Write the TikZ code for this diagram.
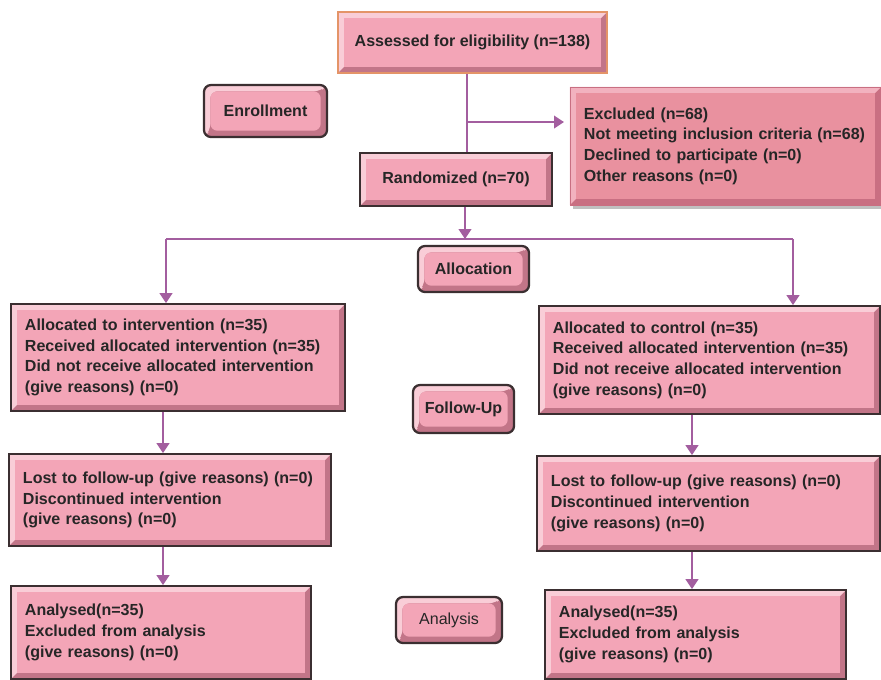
\documentclass[tikz,border=0pt]{standalone}
\usepackage{fontspec}
\setmainfont{Liberation Sans}
\usetikzlibrary{arrows.meta,shadows}

\definecolor{boxface}{HTML}{F3A5B7}
\definecolor{boxlight}{HTML}{F9CDD7}
\definecolor{boxdark}{HTML}{C27588}
\definecolor{boxedge}{HTML}{3B2F31}
\definecolor{exclface}{HTML}{E9919F}
\definecolor{excllight}{HTML}{F2B2BF}
\definecolor{excldark}{HTML}{C96F82}
\definecolor{assessedge}{HTML}{E49468}
\definecolor{flowline}{HTML}{A35E9F}

\newcommand{\bevdepth}{4.5pt}

\tikzset{
	bevel/.style n args={3}{fill=#3, path picture={
		\fill[#1] (path picture bounding box.north west) -- (path picture bounding box.north east)
			-- ([shift={(-\bevdepth,-\bevdepth)}]path picture bounding box.north east)
			-- ([shift={(\bevdepth,-\bevdepth)}]path picture bounding box.north west)
			-- ([shift={(\bevdepth,\bevdepth)}]path picture bounding box.south west)
			-- (path picture bounding box.south west) -- cycle;
		\fill[#2] ([shift={(\bevdepth,-\bevdepth)}]path picture bounding box.north west)
			rectangle ([shift={(-\bevdepth,\bevdepth)}]path picture bounding box.south east);
	}},
	pinkbox/.style={bevel={boxlight}{boxface}{boxdark}, draw=boxedge, line width=1.3pt,
		text=black!85, font=\fontsize{11.4}{14.7}\selectfont\bfseries},
	listbox/.style={pinkbox, align=left, inner xsep=0.35cm, inner ysep=0pt},
	stagebox/.style={pinkbox, rounded corners=5pt, line width=1.6pt},
	flow/.style={draw=flowline, line width=1.1pt},
	flowarrow/.style={flow, -{Triangle[width=9pt,length=7pt]}}
}

\begin{document}
\begin{tikzpicture}[x=0.025cm, y=-0.025cm]
	\useasboundingbox (0,0) rectangle (881,679);

	\node[pinkbox, draw=assessedge, line width=1.8pt, minimum width=6.725cm, minimum height=1.525cm] (assessed) at (472.5,42.5) {Assessed for eligibility (n=138)};
	\node[stagebox, minimum width=3.075cm, minimum height=1.3cm] (enroll) at (265.5,111) {Enrollment};
	\node[listbox, bevel={excllight}{exclface}{excldark}, draw=excldark, line width=0.6pt,
		drop shadow={shadow xshift=2.5pt, shadow yshift=-2.5pt, fill=black!55, opacity=0.45},
		text width=7.075cm, minimum height=2.95cm] (excluded) at (725.5,146)
		{Excluded (n=68)\\Not meeting inclusion criteria (n=68)\\Declined to participate (n=0)\\Other reasons (n=0)};
	\node[pinkbox, minimum width=4.8cm, minimum height=1.325cm] (random) at (456,179.5) {Randomized (n=70)};
	\node[stagebox, minimum width=2.775cm, minimum height=1.15cm] (alloc) at (473.5,269) {Allocation};

	\node[listbox, text width=7.65cm, minimum height=2.675cm] (allocint) at (178,357.5)
		{Allocated to intervention (n=35)\\Received allocated intervention (n=35)\\Did not receive allocated intervention\\(give reasons) (n=0)};
	\node[listbox, text width=7.825cm, minimum height=2.7cm] (allocctl) at (709.5,360)
		{Allocated to control (n=35)\\Received allocated intervention (n=35)\\Did not receive allocated intervention\\(give reasons) (n=0)};
	\node[stagebox, minimum width=2.525cm, minimum height=1.2cm] (follow) at (463.5,409) {Follow-Up};

	\node[listbox, text width=7.35cm, minimum height=2.3cm] (lostint) at (170,500)
		{Lost to follow-up (give reasons) (n=0)\\Discontinued intervention\\(give reasons) (n=0)};
	\node[listbox, text width=7.875cm, minimum height=2.375cm] (lostctl) at (708.5,503.5)
		{Lost to follow-up (give reasons) (n=0)\\Discontinued intervention\\(give reasons) (n=0)};

	\node[stagebox, font=\fontsize{11.4}{14.7}\selectfont, minimum width=2.65cm, minimum height=1.15cm] (analysis) at (449,620) {Analysis};
	\node[listbox, text width=6.8cm, minimum height=2.325cm] (anaint) at (161,632.5)
		{Analysed(n=35)\\Excluded from analysis\\(give reasons) (n=0)};
	\node[listbox, text width=6.825cm, minimum height=2.225cm] (anactl) at (695.5,634.5)
		{Analysed(n=35)\\Excluded from analysis\\(give reasons) (n=0)};

	\coordinate (split) at (467,122);
	\coordinate (hub) at (465,239);
	\coordinate (leftbranch) at (166,239);
	\coordinate (rightbranch) at (793,239);
	\coordinate (intcol) at (163,0);
	\coordinate (ctlcol) at (692,0);

	\draw[flow] (assessed.south -| split) -- (random.north -| split);
	\draw[flowarrow, shorten >=4pt] (split) -- (excluded.west |- split);
	\draw[flowarrow] (random.south -| hub) -- (hub);
	\draw[flow] (leftbranch) -- (rightbranch);
	\draw[flowarrow] (leftbranch) -- (leftbranch |- allocint.north);
	\draw[flowarrow] (rightbranch) -- (rightbranch |- allocctl.north);
	\draw[flowarrow] (allocint.south -| intcol) -- (lostint.north -| intcol);
	\draw[flowarrow] (lostint.south -| intcol) -- (anaint.north -| intcol);
	\draw[flowarrow] (allocctl.south -| ctlcol) -- (lostctl.north -| ctlcol);
	\draw[flowarrow] (lostctl.south -| ctlcol) -- (anactl.north -| ctlcol);
\end{tikzpicture}
\end{document}
